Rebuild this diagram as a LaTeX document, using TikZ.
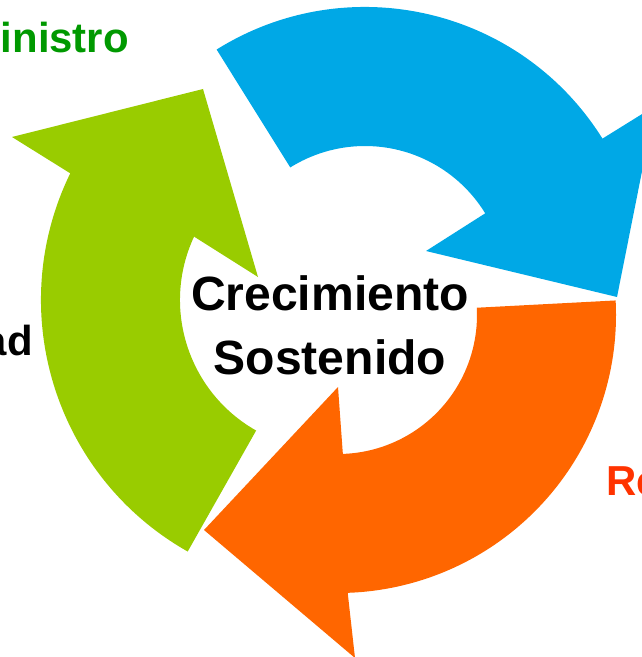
\documentclass[tikz,border=0pt]{standalone}
\usepackage{fontspec}
\setmainfont{Liberation Sans}
\usepackage{tikz}
\usetikzlibrary{calc}
\definecolor{cblue}{RGB}{0, 168, 230}
\definecolor{corange}{RGB}{255, 102, 0}
\definecolor{cgreen}{RGB}{153, 204, 0}
\definecolor{dgreen}{RGB}{0, 153, 0}
\definecolor{lred}{RGB}{255, 51, 0}

\begin{document}
\begin{tikzpicture}[x = 0.025cm, y = -0.025cm,
			sidelabel/.style = {inner sep = 0pt, font = \fontsize{29.8}{35}\selectfont\bfseries},
			centertext/.style = {inner sep = 0pt, align = center, font = \fontsize{34.2}{45.5}\selectfont\bfseries}]
			\useasboundingbox (0,0) rectangle (642,657);
			\clip (0,0) rectangle (642,657);
			\coordinate (bc) at (365,287);
			\coordinate (oc) at (338,315);
			\coordinate (gc) at (330,300);
			% blue arrow
			\fill[cblue] ($(bc)+(238:280)$) arc[start angle = 238, end angle = 328, radius = 280]
				-- (655,106) -- (617,297) -- (426,251)
				-- ($(bc)+(328.5:141)$) arc[start angle = 328.5, end angle = 238, radius = 141] -- cycle;
			% orange arrow
			\fill[corange] ($(oc)+(-3:278)$) arc[start angle = -3, end angle = 88, radius = 278]
				-- (355,658) -- (204,530) -- (338,387)
				-- ($(oc)+(88:139)$) arc[start angle = 88, end angle = -3, radius = 139] -- cycle;
			% green arrow
			\fill[cgreen] ($(gc)+(119.5:289)$) arc[start angle = 119.5, end angle = 206, radius = 289]
				-- (12,137) -- (203,89) -- (258,277)
				-- ($(gc)+(205:150)$) arc[start angle = 205, end angle = 119.5, radius = 150] -- cycle;
			\node (growth) at (330,325) [centertext] {Crecimiento\\Sostenido};
			\node (toplabel) at (0.5,53) [sidelabel, anchor = base west, text = dgreen] {inistro};
			\node (leftlabel) at (33,355) [sidelabel, anchor = base east] {ad};
			\node (rightlabel) at (606,495) [sidelabel, anchor = base west, text = lred] {Re};
			\end{tikzpicture}
\end{document}
